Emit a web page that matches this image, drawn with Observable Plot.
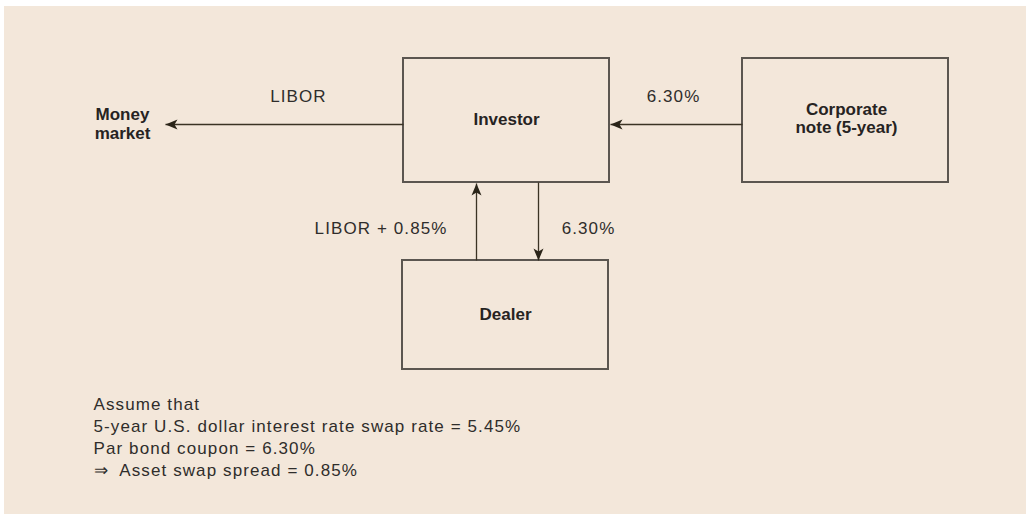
<!DOCTYPE html>
<html>
<head>
<meta charset="utf-8">
<script src="https://cdn.jsdelivr.net/npm/d3@7"></script>
<script src="https://cdn.jsdelivr.net/npm/@observablehq/plot@0.6"></script>
<style>
  html, body { margin: 0; padding: 0; background: #ffffff; }
  #chart { padding-left: 4px; padding-top: 6px; width: 1022px; height: 508px; }
  #chart svg { display: block; background: #f3e7da; }
</style>
</head>
<body>
<div id="chart"></div>
<script>
// ---------- data ----------
const nodes = ["Money market", "Investor", "Corporate note (5-year)", "Dealer"];
const nodeLabels = ["Money\nmarket", "Investor", "Corporate\nnote (5-year)", "Dealer"];
const nodeBoxed = [false, true, true, true];

const flowFrom = ["Investor", "Corporate note (5-year)", "Dealer", "Investor"];
const flowTo = ["Money market", "Investor", "Investor", "Dealer"];
const flowLabels = ["LIBOR", "6.30%", "LIBOR + 0.85%", "6.30%"];

const notes = [
  "Assume that",
  "5-year U.S. dollar interest rate swap rate = 5.45%",
  "Par bond coupon = 6.30%",
  "\u21D2  Asset swap spread = 0.85%"
];

// ---------- layout (diagram geometry, kept apart from the data) ----------
const nodeLayout = {
  "Money market": {x1: 93, x2: 164, y1: 105, y2: 141, cx: 122, cy: 123},
  "Investor": {x1: 403, x2: 609, y1: 58, y2: 182, cx: 506, cy: 119},
  "Corporate note (5-year)": {x1: 742, x2: 948, y1: 58, y2: 182, cx: 846, cy: 117.5},
  "Dealer": {x1: 402, x2: 608, y1: 260, y2: 369, cx: 505, cy: 314}
};
// lane of each flow: horizontal flows run at a y, vertical flows at an x
const flowLayout = [
  {dir: "h", lane: 124, lx: 298, ly: 96, anchor: "middle"},
  {dir: "h", lane: 124, lx: 673, ly: 96, anchor: "middle"},
  {dir: "v", lane: 476, lx: 447, ly: 228, anchor: "end"},
  {dir: "v", lane: 538, lx: 588, ly: 228, anchor: "middle"}
];
const notesLayout = {x: 93, y0: 404, step: 22};

// ---------- derived tables ----------
const boxes = nodes.map((n, i) => ({name: n, label: nodeLabels[i], boxed: nodeBoxed[i], ...nodeLayout[n]}));
const edge = (n, side) => nodeLayout[n][side];

const flows = flowFrom.map((f, i) => {
  const t = flowTo[i], L = flowLayout[i], a = nodeLayout[f], b = nodeLayout[t];
  let x1, y1, x2, y2;
  if (L.dir === "h") {
    y1 = y2 = L.lane;
    if (b.cx < a.cx) { x1 = a.x1; x2 = b.x2 + 1; } else { x1 = a.x2; x2 = b.x1 - 1; }
  } else {
    x1 = x2 = L.lane;
    if (b.cy < a.cy) { y1 = a.y1; y2 = b.y2 + 1; } else { y1 = a.y2; y2 = b.y1; }
  }
  return {from: f, to: t, label: flowLabels[i], x1, y1, x2, y2, lx: L.lx, ly: L.ly, anchor: L.anchor};
});

const noteRows = notes.map((s, i) => ({text: s, x: notesLayout.x, y: notesLayout.y0 + i * notesLayout.step}));

// stealth arrowhead symbol, tip at the anchor point, pointing along (dx, dy)
function headSymbol(dx, dy) {
  const len = Math.hypot(dx, dy), ux = dx / len, uy = dy / len, px = -uy, py = ux;
  const L = 12, W = 5, N = 9;
  return {
    draw(ctx) {
      ctx.moveTo(0, 0);
      ctx.lineTo(-ux * L + px * W, -uy * L + py * W);
      ctx.lineTo(-ux * N, -uy * N);
      ctx.lineTo(-ux * L - px * W, -uy * L - py * W);
      ctx.closePath();
    }
  };
}

const FONT = "Liberation Sans, Arial, Helvetica, sans-serif";

const marks = [
  // boxes
  Plot.rect(boxes.filter(d => d.boxed), {
    x1: "x1", x2: "x2", y1: "y1", y2: "y2",
    fill: "none", stroke: "#5b5650", strokeWidth: 2
  }),
  // arrow shafts
  Plot.link(flows, {x1: "x1", y1: "y1", x2: "x2", y2: "y2", stroke: "#3b3324", strokeWidth: 1.3}),
  // arrow heads
  ...flows.map(f => Plot.dot([f], {
    x: "x2", y: "y2",
    symbol: headSymbol(f.x2 - f.x1, f.y2 - f.y1),
    fill: "#2a2418", stroke: "none"
  })),
  // node labels
  Plot.text(boxes, {
    x: "cx", y: "cy", text: "label",
    fontFamily: FONT, fontWeight: "bold", fontSize: 17, lineHeight: 1.1,
    fill: "#262322", textAnchor: "middle", lineAnchor: "middle"
  }),
  // flow labels
  ...["middle", "end"].map(anc => Plot.text(flows.filter(f => f.anchor === anc), {
    x: "lx", y: "ly", text: "label",
    fontFamily: FONT, fontSize: 17, fill: "#2f2d2b", textAnchor: anc, lineAnchor: "middle"
  })),
  // notes
  Plot.text(noteRows, {
    x: "x", y: "y", text: "text",
    fontFamily: FONT, fontSize: 17, fill: "#2f2d2b", textAnchor: "start", lineAnchor: "middle"
  })
];

const chart = Plot.plot({
  width: 1022,
  height: 508,
  margin: 0,
  x: {type: "linear", domain: [4, 1026], range: [0, 1022], axis: null},
  y: {type: "linear", domain: [6, 514], range: [0, 508], axis: null},
  style: {background: "#f3e7da", overflow: "visible"},
  marks
});

// wider tracking for the regular-weight text, as in the reference
chart.querySelectorAll('g[aria-label="text"]').forEach(g => {
  if (g.getAttribute("font-weight") !== "bold") g.setAttribute("letter-spacing", "1.1");
});

document.getElementById("chart").appendChild(chart);
</script>
</body>
</html>
